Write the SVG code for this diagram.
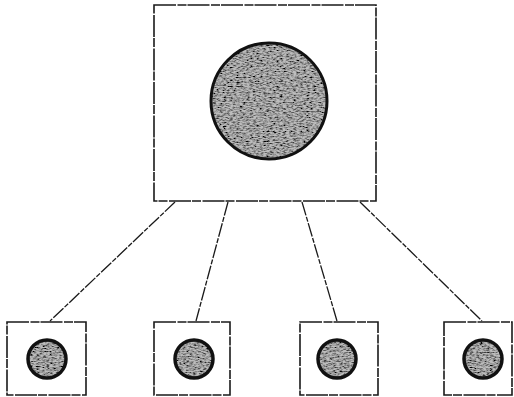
<svg xmlns="http://www.w3.org/2000/svg" width="514" height="397" viewBox="0 0 514 397">
<defs>
<filter id="grain" x="-5%" y="-5%" width="110%" height="110%" filterUnits="objectBoundingBox">
<feTurbulence type="fractalNoise" baseFrequency="0.3 0.8" numOctaves="2" seed="3" result="n"/>
<feColorMatrix in="n" type="matrix" values="0 0 0 0 0  0 0 0 0 0  0 0 0 0 0  0 0 0 -2.4 1.55" result="dots"/>
<feComposite in="dots" in2="SourceGraphic" operator="in" result="clip"/>
<feMerge><feMergeNode in="SourceGraphic"/><feMergeNode in="clip"/></feMerge>
</filter>
<style>
.box{fill:#fff;stroke:#1a1a1a;stroke-width:1.6;stroke-dasharray:22 1.5 9 1}
.fill{fill:#bdbdbd;stroke:none;filter:url(#grain)}
.rim{fill:none;stroke:#111;stroke-width:3}
.small{stroke-width:3.5}
.conn{stroke:#1a1a1a;stroke-width:1.3;fill:none;stroke-dasharray:14 1.5 5 1.5}
</style>
</defs>
<rect width="514" height="397" fill="#fff"/>
<g id="connectors">
<line class="conn" x1="175" y1="202" x2="50" y2="321"/>
<line class="conn" x1="228" y1="202" x2="196" y2="321"/>
<line class="conn" x1="302" y1="202" x2="337" y2="321"/>
<line class="conn" x1="360" y1="202" x2="482" y2="321"/>
</g>
<g id="top">
<rect class="box" x="154" y="5" width="222" height="196"/>
<circle class="fill" cx="269" cy="101" r="58"/>
<circle class="rim" cx="269" cy="101" r="58"/>
</g>
<g id="child1">
<rect class="box" x="7" y="322" width="79" height="73"/>
<circle class="fill" cx="47" cy="359" r="19"/>
<circle class="rim small" cx="47" cy="359" r="19"/>
</g>
<g id="child2">
<rect class="box" x="154" y="322" width="76" height="73"/>
<circle class="fill" cx="194" cy="359" r="19"/>
<circle class="rim small" cx="194" cy="359" r="19"/>
</g>
<g id="child3">
<rect class="box" x="300" y="322" width="78" height="73"/>
<circle class="fill" cx="337" cy="359" r="19"/>
<circle class="rim small" cx="337" cy="359" r="19"/>
</g>
<g id="child4">
<rect class="box" x="444" y="322" width="68" height="73"/>
<circle class="fill" cx="483" cy="359" r="19"/>
<circle class="rim small" cx="483" cy="359" r="19"/>
</g>
</svg>
